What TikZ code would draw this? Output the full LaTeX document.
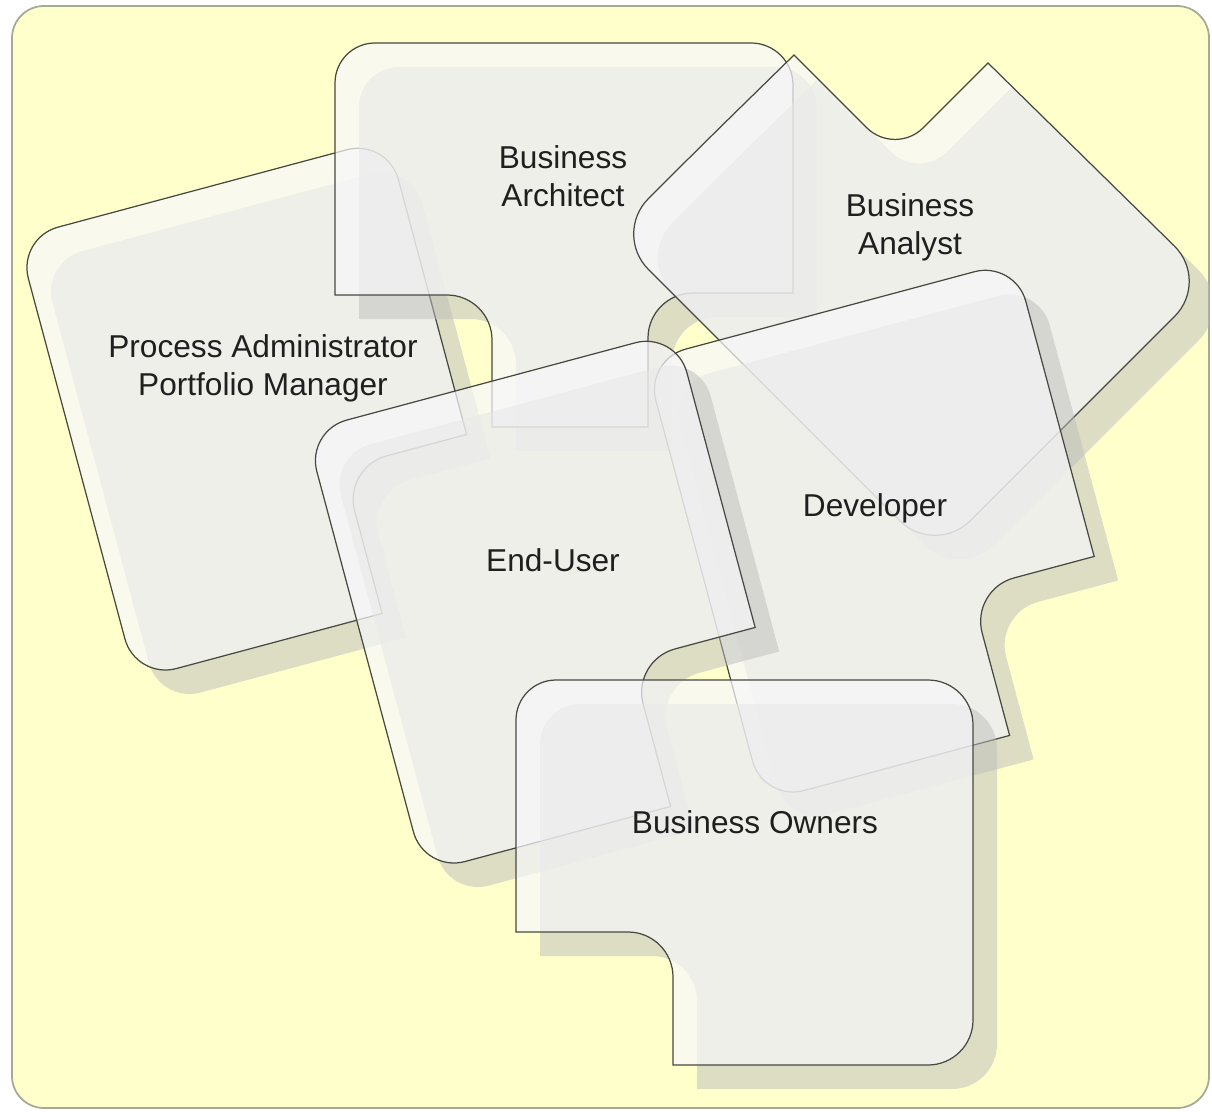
\documentclass[tikz,border=0pt]{standalone}
\usepackage{fontspec}
\setmainfont{Liberation Sans}
\definecolor{bgyellow}{RGB}{255,255,204}
\definecolor{bgedge}{RGB}{168,168,150}
\definecolor{shadowgray}{RGB}{188,188,188}
\definecolor{piecefill}{RGB}{247,247,250}
\definecolor{pieceedge}{RGB}{72,72,66}
% outlines of the pieces, in pixels
\newcommand{\tiltshape}{(0,200) [rounded corners=0.84cm] -- (0,0) -- (383,0) [sharp corners] -- (383,306) [rounded corners=0.9cm] -- (255,306) [sharp corners] -- (255,457) [rounded corners=0.84cm] -- (0,457) -- cycle}
\newcommand{\archshape}{(335,200) [rounded corners=0.8cm] -- (335,43) [rounded corners=0.84cm] -- (793,43) [sharp corners] -- (793,293) [rounded corners=0.9cm] -- (648,293) [sharp corners] -- (648,427) -- (492,427) [rounded corners=0.9cm] -- (492,295) [sharp corners] -- (335,295) -- cycle}
\newcommand{\analystshape}{(700,147) [sharp corners] -- (794,55) [rounded corners=0.8cm] -- (895,156) [sharp corners] -- (988,63) [rounded corners=1cm] -- (1210,281) -- (935,556) -- (613,234) -- cycle}
\newcommand{\ownershape}{(516,800) [rounded corners=0.8cm] -- (516,680) [rounded corners=0.9cm] -- (973,680) -- (973,1065) [sharp corners] -- (673,1065) [rounded corners=0.9cm] -- (673,932) [sharp corners] -- (516,932) -- cycle}

\begin{document}
\begin{tikzpicture}[x=0.02cm,y=-0.02cm,
	piece/.style={fill=piecefill,fill opacity=0.72,draw=pieceedge,line width=0.7pt},
	backshadow/.style={fill=shadowgray,fill opacity=0.5,shift={(24,24)}},
	rolename/.style={text=black!88,font=\fontsize{18}{21.6}\selectfont,align=center}]
	\useasboundingbox (0,0) rectangle (1212,1111);
	\coordinate (AdminCorner) at (17.5,238);
	\coordinate (UserCorner) at (306,431);
	\coordinate (DevCorner) at (645,360);
	
	\draw[fill=bgyellow,draw=bgedge,line width=1pt,rounded corners=0.64cm] (12,6) rectangle (1209,1108);% background
	\begin{scope}
	\clip[rounded corners=0.64cm] (12,6) rectangle (1209,1108);
	
	\fill[shift={(AdminCorner)},backshadow,rotate=15] \tiltshape;
	\draw[piece,shift={(AdminCorner)},rotate=15] \tiltshape;
	
	\fill[backshadow] \archshape;
	\draw[piece] \archshape;
	
	\fill[backshadow] \analystshape;
	\draw[piece] \analystshape;
	
	\fill[shift={(DevCorner)},backshadow,rotate=15] \tiltshape;
	\draw[piece,shift={(DevCorner)},rotate=15] \tiltshape;
	
	\fill[shift={(UserCorner)},backshadow,rotate=15] \tiltshape;
	\draw[piece,shift={(UserCorner)},rotate=15] \tiltshape;
	
	\fill[backshadow] \ownershape;
	\draw[piece] \ownershape;
	\end{scope}
	
	\node[rolename] (architect) at (563,176) {Business\\Architect};
	\node[rolename] (analyst) at (910,227) {Business\\Analyst};
	\node[rolename] (admin) at (263,368) {Process Administrator\\Portfolio Manager};
	\node[rolename] (enduser) at (553,560) {End-User};
	\node[rolename] (developer) at (875,508) {Developer};
	\node[rolename] (owners) at (755,822) {Business Owners};
\end{tikzpicture}
\end{document}
